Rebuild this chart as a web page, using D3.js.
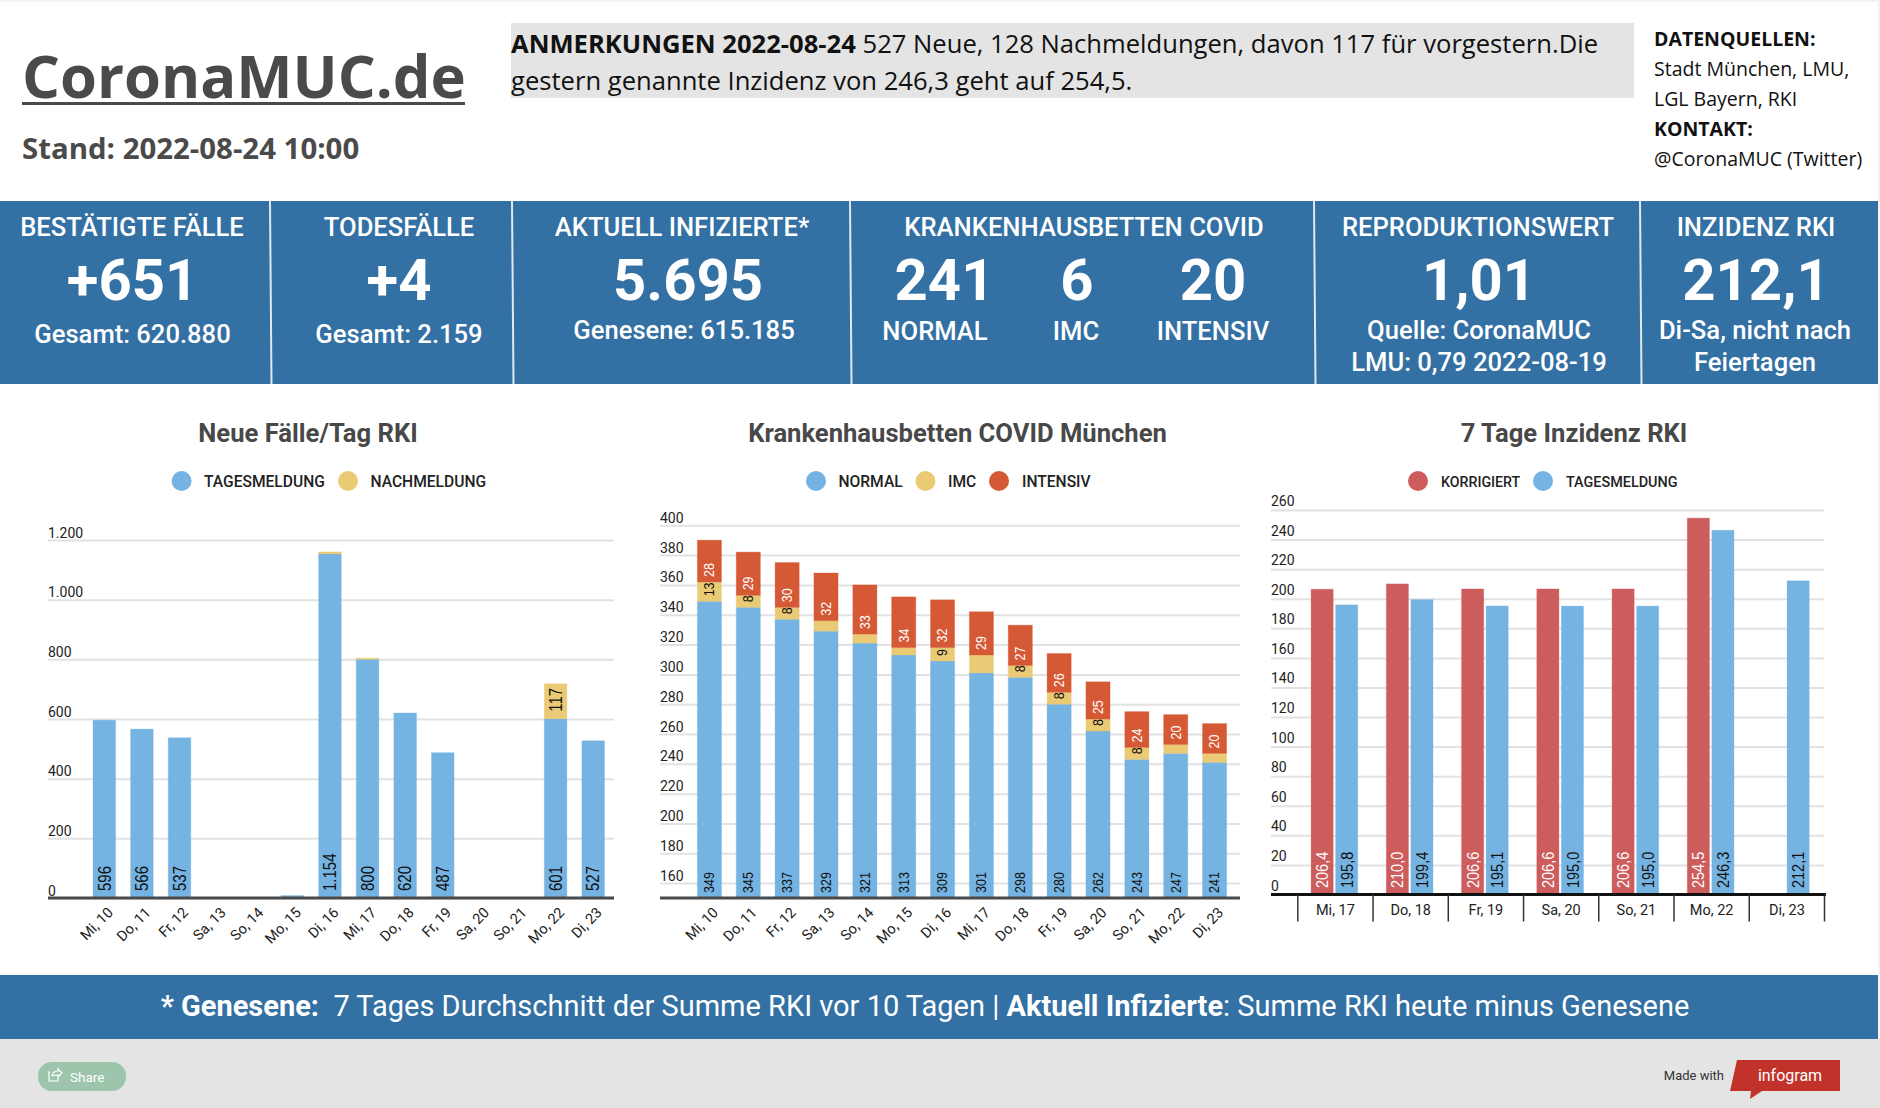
<!DOCTYPE html>
<html>
<head>
<meta charset="utf-8">
<title>CoronaMUC.de</title>
<script src="https://cdn.jsdelivr.net/npm/d3@7"></script>
<style>
  html, body { margin: 0; padding: 0; background: #f3f3f3; overflow: hidden; }
  svg { display: block; }
  text { font-family: Roboto, sans-serif; }
  text.os { font-family: "Open Sans", sans-serif; }
  text.barlabel { font-family: "Liberation Sans", Arial, sans-serif; }
</style>
</head>
<body>
<svg id="page" width="1880" height="1108"></svg>
<script>
// chart 1
var casesDays = ['Mi, 10','Do, 11','Fr, 12','Sa, 13','So, 14','Mo, 15','Di, 16','Mi, 17','Do, 18','Fr, 19','Sa, 20','So, 21','Mo, 22','Di, 23']
var casesDaily = [596,566,537,0,0,8,1154,800,620,487,0,0,601,527]
var casesLate = [0,0,0,0,0,0,6,4,0,0,0,0,117,0]
var casesTicks = [0,200,400,600,800,1000,1200]

// chart 2
var bedsNormal = [349,345,337,329,321,313,309,301,298,280,262,243,247,241]
var bedsImc = [13,8,8,7,6,5,9,12,8,8,8,8,6,6]
var bedsImcShown = [13,8,8,null,null,null,9,null,8,8,8,8,null,null]
var bedsIcu = [28,29,30,32,33,34,32,29,27,26,25,24,20,20]
var bedsTicks = [160,180,200,220,240,260,280,300,320,340,360,380,400]

// chart 3
var incDays = ['Mi, 17','Do, 18','Fr, 19','Sa, 20','So, 21','Mo, 22','Di, 23']
var incCorrected = [206.4,210.0,206.6,206.6,206.6,254.5,null]
var incDaily = [195.8,199.4,195.1,195.0,195.0,246.3,212.1]
var incTicks = [0,20,40,60,80,100,120,140,160,180,200,220,240,260]

var BLUE = '#74b3e2', YELLOW = '#eaca75', ORANGE = '#d55934', RED = '#cd5c5c'
var PANEL = '#3370a4', GREY = '#e4e4e4', GRID = '#e2e2e2', DARK = '#484848'

var de = d3.formatLocale({decimal: ',', thousands: '.', grouping: [3], currency: ['', '€']})
var fmtInt = de.format(',d')
var fmtDec = de.format(',.1f')

var svg = d3.select('#page')

svg.append('rect').attr('y', 2).attr('width', 1878).attr('height', 975).attr('fill', '#fff')

function txt(parent, x, y, str, size, opts) {
    opts = opts || {}
    return parent.append('text')
        .attr('x', x).attr('y', y)
        .attr('text-anchor', opts.anchor || 'middle')
        .attr('class', opts.cls || null)
        .style('font-size', size + 'px')
        .style('font-weight', opts.weight || 400)
        .attr('fill', opts.fill || '#fff')
        .text(str)
}

// ---- header
txt(svg, 22, 98, 'CoronaMUC.de', 59.7, {anchor: 'start', cls: 'os', weight: 700, fill: '#4a4a4a'})
svg.append('rect').attr('x', 22).attr('y', 102).attr('width', 443).attr('height', 3).attr('fill', '#4a4a4a')
txt(svg, 22, 159, 'Stand: 2022-08-24 10:00', 29.4, {anchor: 'start', cls: 'os', weight: 700, fill: '#4a4a4a'})

svg.append('rect').attr('x', 511).attr('y', 23).attr('width', 1123).attr('height', 75).attr('fill', GREY)
var note = txt(svg, 511, 53, '', 25.6, {anchor: 'start', cls: 'os', fill: '#111'})
note.append('tspan').style('font-weight', 700).text('ANMERKUNGEN 2022-08-24')
note.append('tspan').text(' 527 Neue, 128 Nachmeldungen, davon 117 für vorgestern.Die')
txt(svg, 511, 90, 'gestern genannte Inzidenz von 246,3 geht auf 254,5.', 25.6, {anchor: 'start', cls: 'os', fill: '#111'})

var sources = [
    ['DATENQUELLEN:', 46, 700],
    ['Stadt München, LMU,', 76, 400],
    ['LGL Bayern, RKI', 106, 400],
    ['KONTAKT:', 136, 700],
    ['@CoronaMUC (Twitter)', 166, 400]
]
sources.forEach(function (s) {
    txt(svg, 1654, s[1], s[0], 19.5, {anchor: 'start', cls: 'os', weight: s[2], fill: '#111'})
})

// ---- blue KPI row
svg.append('rect').attr('y', 201).attr('width', 1878).attr('height', 183).attr('fill', PANEL)
var panelBreaks = [270, 512, 850, 1314, 1640]
svg.selectAll('.sep').data(panelBreaks).enter().append('line')
    .attr('class', 'sep')
    .attr('x1', d => d).attr('x2', d => d + 1.5)
    .attr('y1', 201).attr('y2', 384)
    .attr('stroke', '#dfe8f0').attr('stroke-width', 2)

var kpiTitles = [['BESTÄTIGTE FÄLLE',132],['TODESFÄLLE',399],['AKTUELL INFIZIERTE*',682],['KRANKENHAUSBETTEN COVID',1084],['REPRODUKTIONSWERT',1478],['INZIDENZ RKI',1756]]
var kpiNumbers = [['+651',132.5],['+4',399],['5.695',688],['241',944.5],['6',1077],['20',1213],['1,01',1479],['212,1',1756]]
var kpiNotes = [
    ['Gesamt: 620.880',132.5,343],['Gesamt: 2.159',399,343],['Genesene: 615.185',684,339],
    ['NORMAL',935,340],['IMC',1076,340],['INTENSIV',1213,340],
    ['Quelle: CoronaMUC',1479,339],['LMU: 0,79 2022-08-19',1479,371],
    ['Di-Sa, nicht nach',1755,339],['Feiertagen',1755,371]
]
kpiTitles.forEach(function (k) { txt(svg, k[1], 236, k[0], 25.6, {weight: 500}) })
kpiNumbers.forEach(function (k) { txt(svg, k[1], 300, k[0], 58, {weight: 700}) })
kpiNotes.forEach(function (k) { txt(svg, k[1], k[2], k[0], 25.6, {weight: 500}) })

// ---- shared chart parts
function legend(items) {
    items.forEach(function (it) {
        svg.append('circle').attr('cx', it.cx).attr('cy', 481).attr('r', 10).attr('fill', it.color)
        txt(svg, it.tx, 487, it.label, it.size, {anchor: 'start', weight: 500, fill: '#222'})
    })
}

function gridAxis(y, ticks, left, right, labelLift, fmt) {
    var g = svg.append('g').attr('transform', 'translate(' + left + ',0)')
        .call(d3.axisLeft(y).tickValues(ticks).tickSize(-(right - left)).tickFormat(fmt))
    g.select('.domain').remove()
    g.selectAll('.tick line').attr('stroke', GRID).attr('stroke-width', 2)
    g.selectAll('.tick text')
        .attr('x', 0).attr('dy', 0).attr('y', -labelLift)
        .attr('text-anchor', 'start').attr('fill', '#222')
        .style('font-size', '14px').style('font-family', 'Roboto, sans-serif')
}

function slantedDays(x, baseY, dx) {
    var g = svg.append('g').attr('transform', 'translate(0,' + baseY + ')')
        .call(d3.axisBottom(x).tickSize(0))
    g.select('.domain').remove()
    g.selectAll('.tick text')
        .attr('x', 0).attr('y', 0).attr('dy', '.35em')
        .attr('text-anchor', 'end').attr('fill', '#222')
        .attr('transform', 'translate(' + dx + ',12) rotate(-45)')
        .style('font-size', '14.5px').style('font-family', 'Roboto, sans-serif')
}

// the value labels in the reference are a bit wider across than they are long
function barLabelTransform(cx, baseY, stretch) {
    return 'translate(' + cx + ',' + baseY + ') rotate(-90) scale(1,' + stretch + ')'
}

function stackedChart(cfg) {
    var x = d3.scaleBand().domain(casesDays).range(cfg.xRange).paddingInner(cfg.pad).paddingOuter(cfg.pad / 2)
    var y = d3.scaleLinear().domain(cfg.yDomain).range(cfg.yRange).clamp(true)

    gridAxis(y, cfg.ticks, cfg.left, cfg.right, 3, cfg.tickFmt)

    var table = casesDays.map(function (d, i) {
        var row = {day: d}
        cfg.series.forEach(function (s) { row[s.key] = s.values[i] })
        return row
    })
    var layers = d3.stack().keys(cfg.series.map(s => s.key))(table)

    layers.forEach(function (layer, li) {
        var s = cfg.series[li]
        var g = svg.append('g')
        g.selectAll('rect').data(layer.filter(d => d[1] > d[0])).enter().append('rect')
            .attr('x', d => x(d.data.day))
            .attr('y', d => y(d[1]))
            .attr('width', x.bandwidth())
            .attr('height', d => y(d[0]) - y(d[1]))
            .attr('fill', s.color)
            .attr('stroke', s.color).attr('stroke-opacity', 0.35).attr('stroke-width', 1)
    })
    // labels go last so they sit on top of every segment
    layers.forEach(function (layer, li) {
        var s = cfg.series[li]
        svg.append('g').selectAll('text').data(layer.filter((d, i) => s.shown[i] != null)).enter().append('text')
            .attr('class', 'barlabel')
            .attr('transform', d => barLabelTransform(x(d.data.day) + x.bandwidth() / 2, y(d[0]) - cfg.labelOffset, cfg.labelStretch))
            .attr('dy', '.35em')
            .attr('fill', s.labelColor)
            .style('font-size', cfg.labelSize + 'px')
            .text(d => fmtInt(d[1] - d[0]))
    })

    svg.append('line').attr('x1', cfg.left).attr('x2', cfg.right)
        .attr('y1', cfg.yRange[0]).attr('y2', cfg.yRange[0])
        .attr('stroke', '#4a4a4a').attr('stroke-width', 3)

    slantedDays(x, cfg.yRange[0], 6)
}

// ---- chart 1
txt(svg, 308, 442, 'Neue Fälle/Tag RKI', 25.6, {weight: 700, fill: DARK})
legend([
    {cx: 181.6, tx: 204, label: 'TAGESMELDUNG', color: BLUE, size: 15.6},
    {cx: 348, tx: 370.5, label: 'NACHMELDUNG', color: YELLOW, size: 15.6}
])
stackedChart({
    xRange: [85.5, 612], pad: 0.4, yDomain: [0, 1200], yRange: [898, 540],
    left: 48, right: 614, ticks: casesTicks, tickFmt: fmtInt,
    labelOffset: 7, labelSize: 15, labelStretch: 1.18,
    series: [
        {key: 'daily', values: casesDaily, color: BLUE, labelColor: '#111', shown: casesDaily.map(v => v > 100 ? v : null)},
        {key: 'late', values: casesLate, color: YELLOW, labelColor: '#111', shown: casesLate.map(v => v > 100 ? v : null)}
    ]
})

// ---- chart 2
txt(svg, 957.5, 442, 'Krankenhausbetten COVID München', 25.6, {weight: 700, fill: DARK})
legend([
    {cx: 816, tx: 838.5, label: 'NORMAL', color: BLUE, size: 15.6},
    {cx: 925.5, tx: 948, label: 'IMC', color: YELLOW, size: 15.6},
    {cx: 999, tx: 1022, label: 'INTENSIV', color: ORANGE, size: 15.6}
])
stackedChart({
    xRange: [690, 1234], pad: 0.38, yDomain: [150, 400], yRange: [898, 525.3],
    left: 660, right: 1240, ticks: bedsTicks, tickFmt: fmtInt,
    labelOffset: 5, labelSize: 12.5, labelStretch: 1.1,
    series: [
        {key: 'normal', values: bedsNormal, color: BLUE, labelColor: '#111', shown: bedsNormal},
        {key: 'imc', values: bedsImc, color: YELLOW, labelColor: '#111', shown: bedsImcShown},
        {key: 'icu', values: bedsIcu, color: ORANGE, labelColor: '#fff', shown: bedsIcu}
    ]
})

// ---- chart 3
txt(svg, 1574, 442, '7 Tage Inzidenz RKI', 25.6, {weight: 700, fill: DARK})
legend([
    {cx: 1418, tx: 1441, label: 'KORRIGIERT', color: RED, size: 14.2},
    {cx: 1543, tx: 1566, label: 'TAGESMELDUNG', color: BLUE, size: 14.4}
])

var incBase = 894.5
var incRange = [1297.8, 1824.5]
var x0 = d3.scaleBand().domain(incDays).range(incRange).paddingInner(0.38).paddingOuter(0.19).align(0.465)
var xCell = d3.scaleBand().domain(incDays).range(incRange)
var yInc = d3.scaleLinear().domain([0, 260]).range([incBase, 510])
var incSeries = [
    {key: 'corr', values: incCorrected, color: RED, labelColor: '#fff'},
    {key: 'daily', values: incDaily, color: BLUE, labelColor: '#111'}
]
var x1 = d3.scaleBand().domain(incSeries.map(s => s.key)).range([0, x0.bandwidth()]).paddingInner(0.1)

gridAxis(yInc, incTicks, 1271, 1824.5, 4.5, d3.format('d'))

incSeries.forEach(function (s) {
    var rows = incDays.map((d, i) => ({day: d, v: s.values[i]})).filter(r => r.v != null)
    var g = svg.append('g').attr('class', 'inc-' + s.key)
    g.selectAll('rect').data(rows).enter().append('rect')
        .attr('x', d => x0(d.day) + x1(s.key))
        .attr('y', d => yInc(d.v))
        .attr('width', x1.bandwidth())
        .attr('height', d => incBase - yInc(d.v))
        .attr('fill', s.color)
        .attr('stroke', s.color).attr('stroke-opacity', 0.35).attr('stroke-width', 1)
    g.selectAll('text').data(rows).enter().append('text')
        .attr('class', 'barlabel')
        .attr('transform', d => barLabelTransform(x0(d.day) + x1(s.key) + x1.bandwidth() / 2, incBase - 6.5, 1.2))
        .attr('dy', '.35em')
        .attr('fill', s.labelColor)
        .style('font-size', '14.5px')
        .text(d => fmtDec(d.v))
})

svg.append('line').attr('x1', 1271).attr('x2', 1826).attr('y1', incBase).attr('y2', incBase)
    .attr('stroke', '#111').attr('stroke-width', 3)

var incAxis = svg.append('g').attr('transform', 'translate(0,' + incBase + ')')
    .call(d3.axisBottom(xCell).tickSize(0))
incAxis.select('.domain').remove()
incAxis.selectAll('.tick text')
    .attr('y', 20).attr('dy', 0).attr('fill', '#222')
    .style('font-size', '14.5px').style('font-family', 'Roboto, sans-serif')
svg.append('g').selectAll('line')
    .data(incDays.map(d => xCell(d)).concat([incRange[1]]))
    .enter().append('line')
    .attr('x1', d => d).attr('x2', d => d)
    .attr('y1', incBase).attr('y2', incBase + 27)
    .attr('stroke', '#333').attr('stroke-width', 1.5)

// ---- footer
svg.append('rect').attr('y', 975).attr('width', 1878).attr('height', 64).attr('fill', PANEL)
svg.append('rect').attr('y', 1039).attr('width', 1880).attr('height', 69).attr('fill', GREY)

var foot = txt(svg, 925, 1016, '', 29)
foot.append('tspan').style('font-weight', 700).text('* Genesene:')
foot.append('tspan').text('\u00a0 7 Tages Durchschnitt der Summe RKI vor 10 Tagen | ')
foot.append('tspan').style('font-weight', 700).text('Aktuell Infizierte')
foot.append('tspan').text(': Summe RKI heute minus Genesene')

svg.append('rect').attr('x', 38).attr('y', 1062).attr('width', 88).attr('height', 29).attr('rx', 14).attr('fill', '#9cc5ac')
svg.append('path').attr('d', 'M50 1072 h-1 v9 h9 v-3 M52 1076 q1 -5 6 -5 v-2 l4 4 l-4 4 v-2 q-4 0 -6 1')
    .attr('fill', 'none').attr('stroke', '#fff').attr('stroke-width', 1.2)
txt(svg, 70, 1082, 'Share', 13.5, {anchor: 'start'})

txt(svg, 1724, 1080, 'Made with', 13, {anchor: 'end', fill: '#333'})
svg.append('path').attr('d', 'M1737 1060 H1840 V1091 H1762 L1750 1099 L1751 1091 H1730 Z').attr('fill', '#c1332a')
txt(svg, 1790, 1081, 'infogram', 16, {fill: '#fff'})
</script>
</body>
</html>
